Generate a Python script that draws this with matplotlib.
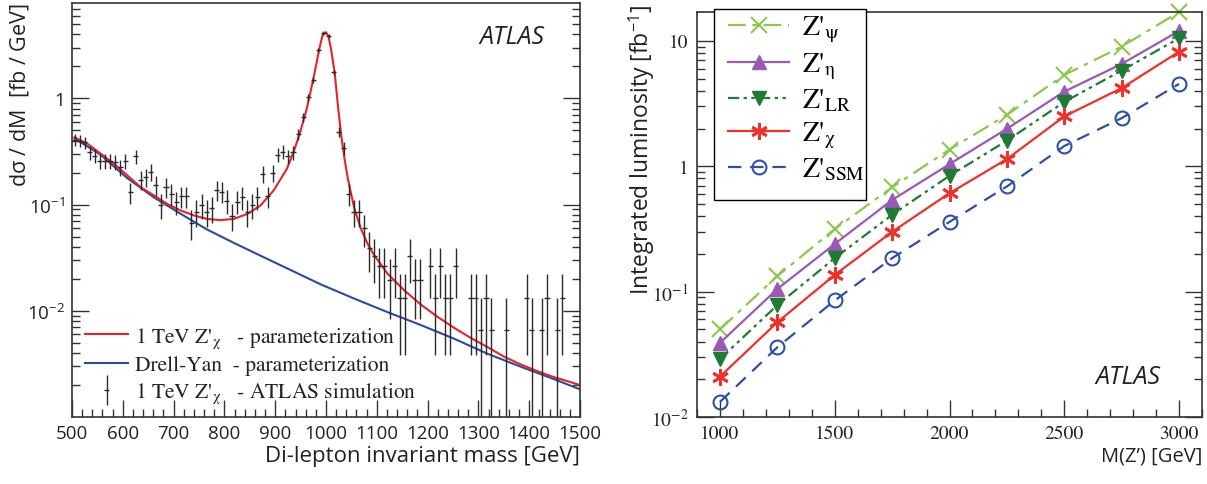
import numpy as np
import matplotlib.pyplot as plt
from matplotlib.ticker import FixedLocator, FixedFormatter, LogLocator, MultipleLocator, NullFormatter
from matplotlib.patches import Rectangle
from matplotlib.lines import Line2D
from matplotlib.legend_handler import HandlerErrorbar
from matplotlib.container import ErrorbarContainer

plt.rcParams['mathtext.fontset'] = 'stix'
SANS = ['Open Sans', 'DejaVu Sans']
SERIF = ['STIXGeneral', 'Liberation Serif', 'DejaVu Serif']

# ---- left panel: parameterisations ----
mass_sig = [505, 531, 557, 583, 609, 635, 661, 688, 714, 740, 766, 792, 818, 845,
            871, 897, 923, 936, 949, 962, 975, 988, 993, 1000, 1005, 1010, 1017,
            1023.5, 1030, 1036.5, 1043, 1056, 1069, 1082, 1095, 1121, 1154, 1187,
            1220, 1252, 1285, 1318, 1350, 1383, 1416, 1448, 1500]
xs_sig = [0.43, 0.372, 0.30, 0.241, 0.188, 0.146, 0.122, 0.101, 0.0879, 0.079,
          0.0732, 0.0714, 0.0732, 0.0815, 0.098, 0.136, 0.217, 0.31, 0.479, 0.793,
          1.52, 3.1, 3.9, 4.2, 3.8, 2.9, 1.76, 0.85, 0.445, 0.269, 0.175, 0.091,
          0.0589, 0.0426, 0.0333, 0.0224, 0.0156, 0.0114, 0.00874, 0.00692,
          0.00555, 0.00455, 0.00371, 0.00313, 0.0027, 0.00238, 0.0020]

mass_dy = [505, 557, 609, 661, 714, 766, 818, 877, 991, 1056, 1121, 1187, 1252,
           1318, 1383, 1448, 1500]
xs_dy = [0.42, 0.293, 0.177, 0.117, 0.0818, 0.0582, 0.0437, 0.0320, 0.0176,
         0.0130, 0.00971, 0.00733, 0.00546, 0.00394, 0.00298, 0.00228, 0.00182]

# ---- left panel: simulated points (10 GeV bins) ----
mass_sim = list(range(505, 1190, 10)) + [1205, 1215, 1225, 1235, 1245, 1255, 1285,
                                         1295, 1305, 1315, 1325, 1355, 1395, 1405,
                                         1425, 1435, 1455, 1465]
xs_sim = [0.4085, 0.3996, 0.3856, 0.3106, 0.2889, 0.2593, 0.2593, 0.2593, 0.2502,
          0.2245, 0.2593, 0.1307, 0.2848, 0.1719, 0.1808, 0.2044, 0.1532, 0.0994,
          0.1456, 0.1261, 0.1053, 0.1199, 0.1199, 0.0673, 0.0860, 0.0994, 0.0860,
          0.0924, 0.1384, 0.1326, 0.1091, 0.0788, 0.1068, 0.1173, 0.0860, 0.0994,
          0.1173, 0.1943, 0.1199, 0.1986, 0.2932, 0.3151, 0.2848, 0.3106, 0.4619,
          0.6626, 1.021, 1.496, 2.865, 4.109, 3.879, 1.754, 0.4858, 0.3387, 0.1261,
          0.0860, 0.0860, 0.0600, 0.0393, 0.0328, 0.0262, 0.0262, 0.0197, 0.0262,
          0.0131, 0.0131, 0.0328, 0.0197, 0.0197,
          0.0262, 0.0131, 0.0262, 0.0131, 0.0131, 0.0262, 0.0131, 0.0131, 0.0066,
          0.0131, 0.0066, 0.0066, 0.0131, 0.0066, 0.0066, 0.0131, 0.0066, 0.0131]
err_sim = [0.052, 0.051, 0.050, 0.045, 0.043, 0.041, 0.041, 0.041, 0.040, 0.038,
           0.041, 0.029, 0.043, 0.034, 0.034, 0.037, 0.032, 0.026, 0.031, 0.029,
           0.026, 0.028, 0.028, 0.021, 0.024, 0.026, 0.024, 0.025, 0.030, 0.029,
           0.027, 0.023, 0.026, 0.028, 0.024, 0.026, 0.028, 0.036, 0.028, 0.036,
           0.044, 0.045, 0.043, 0.045, 0.055, 0.066, 0.082, 0.099, 0.137, 0.164,
           0.159, 0.107, 0.056, 0.047, 0.029, 0.024, 0.024, 0.020, 0.016, 0.0147,
           0.0131, 0.0131, 0.0113, 0.0131, 0.0093, 0.0093, 0.0147, 0.0113, 0.0113,
           0.0131, 0.0093, 0.0131, 0.0093, 0.0093, 0.0131, 0.0093, 0.0093, 0.0065,
           0.0093, 0.0065, 0.0065, 0.0093, 0.0065, 0.0065, 0.0093, 0.0065, 0.0093]

# ---- right panel: luminosity needed for discovery ----
mzp = [1000, 1250, 1500, 1750, 2000, 2250, 2500, 2750, 3000]
lumi_psi = [0.050, 0.133, 0.316, 0.68, 1.36, 2.57, 5.35, 9.0, 17.0]
lumi_eta = [0.039, 0.105, 0.24, 0.538, 1.04, 1.99, 3.94, 6.55, 12.0]
lumi_lr = [0.029, 0.078, 0.185, 0.41, 0.84, 1.6, 3.26, 5.8, 10.5]
lumi_chi = [0.021, 0.057, 0.136, 0.30, 0.61, 1.14, 2.5, 4.2, 8.2]
lumi_ssm = [0.0132, 0.036, 0.085, 0.185, 0.36, 0.69, 1.45, 2.42, 4.54]

fig = plt.figure(figsize=(12.07, 4.85), dpi=100)
W, H = 1207.0, 485.0

def style_axes(ax):
    for s in ax.spines.values():
        s.set_color('#333333')
        s.set_linewidth(1.2)
    ax.tick_params(which='both', direction='in', right=True, top=False,
                   color='#333333', width=1.0)
    ax.tick_params(which='major', length=12)
    ax.tick_params(which='minor', length=6)

# ================= left =================
ax1 = fig.add_axes([72 / W, 1 - 418 / H, 508 / W, 414 / H])
ax1.set_yscale('log')
ax1.plot(mass_dy, xs_dy, color='#2b4c9c', lw=1.5)
ax1.plot(mass_sig, xs_sig, color='#e8222a', lw=1.5)
eb = ax1.errorbar(mass_sim, xs_sim, xerr=5, yerr=err_sim, fmt='none',
                  ecolor='#2a2a2a', elinewidth=1.0, capsize=0)
ax1.set_xlim(500, 1500)
ax1.set_ylim(1e-3, 7.9)
style_axes(ax1)
ax1.xaxis.set_major_locator(MultipleLocator(100))
ax1.xaxis.set_minor_locator(MultipleLocator(20))
ax1.yaxis.set_major_locator(FixedLocator([1e-2, 1e-1, 1]))
ax1.yaxis.set_major_formatter(FixedFormatter([r'$\mathregular{10^{-2}}$',
                                              r'$\mathregular{10^{-1}}$', '1']))
ax1.yaxis.set_minor_locator(LogLocator(base=10, subs=range(2, 10), numticks=20))
ax1.yaxis.set_minor_formatter(NullFormatter())
for lab in ax1.get_xticklabels() + ax1.get_yticklabels():
    lab.set_family(SANS)
    lab.set_fontsize(13.5)
    lab.set_color('#222222')
ax1.tick_params(axis='x', pad=5)
ax1.tick_params(axis='y', pad=5)
ax1.set_xlabel('Di-lepton invariant mass [GeV]', family=SANS, fontsize=16,
               loc='right', color='#222222')
ax1.xaxis.set_label_coords(1.0, -0.068)
ax1.set_ylabel(r'd$\mathregular{\sigma}$ / dM  [fb / GeV]', family=SANS, fontsize=15.5,
               loc='top', color='#222222')
ax1.yaxis.set_label_coords(-0.08, 1.0)
ax1.text(0.866, 0.919, 'ATLAS', transform=ax1.transAxes, family=SANS,
         style='italic', fontsize=18, ha='center', va='center', color='#222222')

h_sig = Line2D([], [], color='#e8222a', lw=1.5)
h_dy = Line2D([], [], color='#2b4c9c', lw=1.5)
leg1 = ax1.legend([h_sig, h_dy, eb],
                  [r"1 TeV Z'$_{\mathrm{\chi}}$   - parameterization",
                   "Drell-Yan  - parameterization",
                   r"1 TeV Z'$_{\mathrm{\chi}}$   - ATLAS simulation"],
                  loc='upper left', bbox_to_anchor=(0.026, 0.222),
                  frameon=False, borderpad=0, borderaxespad=0,
                  handlelength=2.0, handletextpad=0.3, labelspacing=0.26,
                  prop={'family': SERIF, 'size': 15.5},
                  handler_map={ErrorbarContainer: HandlerErrorbar(xerr_size=0.12, yerr_size=0.7)})
for t in leg1.get_texts():
    t.set_color('#222222')

# ================= right =================
ax2 = fig.add_axes([697 / W, 1 - 418 / H, 505 / W, 405 / H])
ax2.set_yscale('log')
c_psi, c_eta, c_lr, c_chi, c_ssm = '#8cc84b', '#9b59b6', '#1e7b34', '#f0302a', '#2c50a8'
l_psi, = ax2.plot(mzp, lumi_psi, color=c_psi, lw=1.6, ls=(0, (8, 3, 2, 3)),
                  marker='x', ms=11, mew=1.5, clip_on=False)
l_eta, = ax2.plot(mzp, lumi_eta, color=c_eta, lw=1.6, ls='-',
                  marker='^', ms=10, clip_on=False)
l_lr, = ax2.plot(mzp, lumi_lr, color=c_lr, lw=1.6, ls=(0, (5, 2, 1.5, 2, 1.5, 2)),
                 marker='v', ms=10, clip_on=False)
l_chi, = ax2.plot(mzp, lumi_chi, color=c_chi, lw=1.6, ls='-',
                  marker=(6, 2, 0), ms=12, mew=2.0, clip_on=False)
l_ssm, = ax2.plot(mzp, lumi_ssm, color=c_ssm, lw=1.6, ls=(0, (6, 4)),
                  marker='o', ms=10, mfc='none', mew=1.5, clip_on=False)
ax2.set_xlim(900, 3100)
ax2.set_ylim(1e-2, 17)
style_axes(ax2)
ax2.xaxis.set_major_locator(MultipleLocator(500))
ax2.xaxis.set_minor_locator(MultipleLocator(100))
ax2.yaxis.set_major_locator(FixedLocator([1e-2, 1e-1, 1, 10]))
ax2.yaxis.set_major_formatter(FixedFormatter([r'$\mathregular{10^{-2}}$',
                                              r'$\mathregular{10^{-1}}$', '1', '10']))
ax2.yaxis.set_minor_locator(LogLocator(base=10, subs=range(2, 10), numticks=20))
ax2.yaxis.set_minor_formatter(NullFormatter())
for lab in ax2.get_xticklabels() + ax2.get_yticklabels():
    lab.set_family(SERIF)
    lab.set_fontsize(14)
    lab.set_color('#222222')
ax2.tick_params(axis='x', pad=6)
ax2.tick_params(axis='y', pad=6)
ax2.set_xlabel("M(Z\u2019) [GeV]", family=SANS, fontsize=14.5, loc='right', color='#222222')
ax2.xaxis.set_label_coords(1.0, -0.07)
ax2.set_ylabel(r'Integrated luminosity [fb$^{\mathregular{-1}}$]', family=SANS,
               fontsize=16.5, loc='top', color='#222222')
ax2.yaxis.set_label_coords(-0.08, 1.02)
ax2.text(0.853, 0.101, 'ATLAS', transform=ax2.transAxes, family=SANS,
         style='italic', fontsize=18, ha='center', va='center', color='#222222')

ax2.add_patch(Rectangle((17 / 505, (418 - 201) / 405), 152 / 505, 191 / 405,
                        transform=ax2.transAxes, fill=True, fc='white', ec='black',
                        lw=1.0, clip_on=False, zorder=5))
leg2 = ax2.legend([l_psi, l_eta, l_lr, l_chi, l_ssm],
                  ["Z'" + r"$_{\mathrm{\psi}}$", "Z'" + r"$_{\mathrm{\eta}}$",
                   "Z'" + r"$_{\mathrm{LR}}$", "Z'" + r"$_{\mathrm{\chi}}$",
                   "Z'" + r"$_{\mathrm{SSM}}$"],
                  loc='upper left', bbox_to_anchor=(31 / 505, (418 - 15) / 405),
                  frameon=False, borderpad=0, borderaxespad=0,
                  handlelength=2.2, handletextpad=0.45, labelspacing=0.22,
                  prop={'family': SERIF, 'size': 20})
leg2.set_zorder(6)

fig.savefig('out.png', dpi=100)
